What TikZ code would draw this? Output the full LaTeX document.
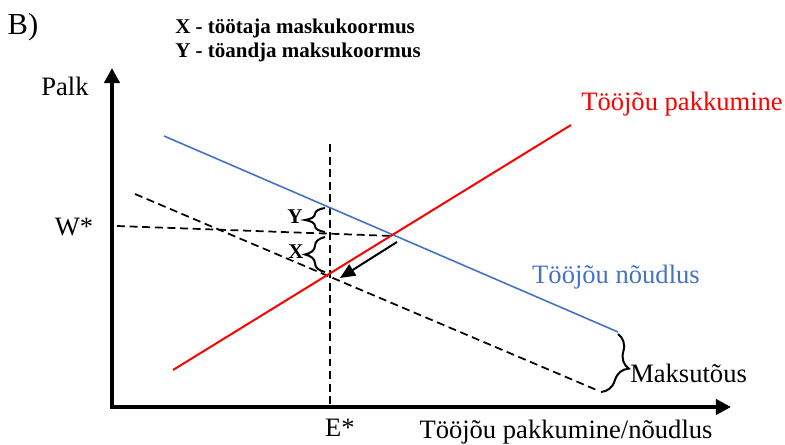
\documentclass[tikz,border=0pt]{standalone}
\usepackage{fontspec}
\setmainfont{Liberation Serif}
\usetikzlibrary{arrows.meta,positioning,decorations.pathreplacing}
\definecolor{suppred}{RGB}{255,0,0}
\definecolor{demblue}{RGB}{68,114,196}
\tikzset{
  axis/.style={line width=3pt,{Triangle[length=4mm,width=4mm]}-{Triangle[length=4mm,width=4mm]}},
  supply/.style={draw=suppred,line width=1.5pt},
  demand/.style={draw=demblue,line width=1.2pt},
  guide/.style={draw=black,line width=1.3pt,dash pattern=on 6pt off 3.5pt},
  shift arrow/.style={->,line width=1.5pt,>={Triangle[length=4mm,width=3.4mm]}},
  brace/.style={draw,line width=1.5pt,decorate,decoration={brace,amplitude=#1}},
  brace/.default=5.3mm,
  lbl/.style={font=\fontsize{20}{24}\selectfont,inner sep=0pt},
  hdr/.style={font=\fontsize{15.8}{19}\selectfont\bfseries,inner sep=0pt,anchor=west},
}
\begin{document}
\begin{tikzpicture}[x=0.02646cm,y=-0.02646cm]
  \useasboundingbox (0,0) rectangle (785,445);
  % header
  \node[lbl,font=\fontsize{23}{27}\selectfont] (part) at (23,27) {B)};
  \node[hdr] (hx) at (175,28) {X - töötaja maskukoormus};
  \node[hdr] (hy) at (175,52) {Y - töandja maksukoormus};
  % axes
  \coordinate (o) at (112,407);
  \coordinate (ytop) at (112,68);
  \coordinate (xend) at (731,407);
  \draw[axis] (ytop) -- (o) -- (xend);
  \node[lbl] (palk) at (65,86) {Palk};
  \node[lbl] (qlbl) at (566,432) {Tööjõu pakkumine/nõudlus};
  % curve ends
  \coordinate (s1) at (173,370);
  \coordinate (s2) at (571,125);
  \coordinate (d1) at (164,136);
  \coordinate (d2) at (618,332);
  \coordinate (t1) at (135,194);
  \coordinate (t2) at (599,391);
  \coordinate (w) at (117,226);
  \coordinate (eq) at (393,236);
  \coordinate (etop) at (330,144);
  \coordinate (ebot) at (330,405);
  % dashed guides
  \draw[guide] (w) -- (eq);
  \draw[guide] (etop) -- (ebot);
  \draw[guide] (t1) -- (t2);
  % supply and demand
  \draw[demand] (d1) -- (d2);
  \draw[supply] (s1) -- (s2);
  \node[lbl,text=suppred] (slbl) at (682,104) {Tööjõu pakkumine};
  \node[lbl,text=demblue] (dlbl) at (616,277) {Tööjõu nõudlus};
  \node[lbl] (wlbl) at (74,227) {W*};
  \node[lbl] (elbl) at (340,428) {E*};
  % shift of the equilibrium
  \coordinate (a1) at (397,242);
  \coordinate (a2) at (340,278);
  \draw[shift arrow] (a1) -- (a2);
  % tax burden braces
  \coordinate (yb1) at (325,208);
  \coordinate (yb2) at (325,232);
  \coordinate (xb1) at (325,237);
  \coordinate (xb2) at (325,272);
  \draw[brace] (yb2) -- (yb1);
  \draw[brace] (xb2) -- (xb1);
  \node[lbl,font=\fontsize{15.8}{19}\selectfont\bfseries] (ylbl) at (295,217) {Y};
  \node[lbl,font=\fontsize{15.8}{19}\selectfont\bfseries] (xlbl) at (296,252) {X};
  \draw[brace] (d2) ++(0,2) coordinate (m1) (m1) -- (601,392);
  \node[lbl,anchor=west] (mlbl) at (630,373) {Maksutõus};
\end{tikzpicture}
\end{document}
